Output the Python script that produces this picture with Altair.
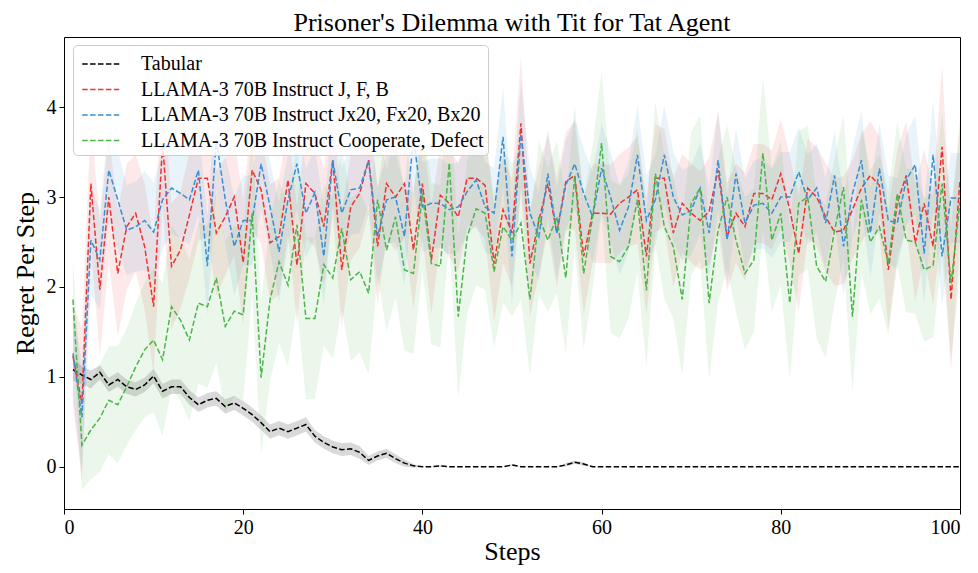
import altair as alt
import pandas as pd

steps = list(range(1, 101))
series_names = [
    "Tabular",
    "LLAMA-3 70B Instruct J, F, B",
    "LLAMA-3 70B Instruct Jx20, Fx20, Bx20",
    "LLAMA-3 70B Instruct Cooperate, Defect",
]
series_colors = ["#000000", "#ee3333", "#3a8ed3", "#4bb54b"]

tabular = [1.08, 1.02, 0.97, 1.05, 0.91, 0.97, 0.89, 0.86, 0.91, 1.01,
           0.84, 0.89, 0.89, 0.77, 0.69, 0.74, 0.76, 0.67, 0.71, 0.65,
           0.58, 0.49, 0.39, 0.43, 0.39, 0.43, 0.47, 0.34, 0.27, 0.22,
           0.19, 0.20, 0.16, 0.07, 0.12, 0.15, 0.09, 0.04, 0.01, 0.0,
           0.0, 0.01, 0.0, 0.0, 0.0, 0.0, 0.0, 0.0, 0.0, 0.02,
           0.0, 0.0, 0.0, 0.0, 0.0, 0.02, 0.05, 0.03, 0.0, 0.0,
           0.0, 0.0, 0.0, 0.0, 0.0, 0.0, 0.0, 0.0, 0.0, 0.0,
           0.0, 0.0, 0.0, 0.0, 0.0, 0.0, 0.0, 0.0, 0.0, 0.0,
           0.0, 0.0, 0.0, 0.0, 0.0, 0.0, 0.0, 0.0, 0.0, 0.0,
           0.0, 0.0, 0.0, 0.0, 0.0, 0.0, 0.0, 0.0, 0.0, 0.0]
tabular_hw = [0.12, 0.10, 0.10, 0.08, 0.08, 0.08, 0.08, 0.08, 0.08, 0.08,
              0.08, 0.08, 0.08, 0.08, 0.08, 0.08, 0.08, 0.08, 0.08, 0.08,
              0.08, 0.08, 0.08, 0.08, 0.08, 0.08, 0.08, 0.07, 0.07, 0.07,
              0.07, 0.07, 0.07, 0.05, 0.05, 0.05, 0.05, 0.04, 0.02, 0.0,
              0.0, 0.01, 0.0, 0.0, 0.0, 0.0, 0.0, 0.0, 0.0, 0.01,
              0.0, 0.0, 0.0, 0.0, 0.0, 0.02, 0.02, 0.02, 0.0, 0.0,
              0.0, 0.0, 0.0, 0.0, 0.0, 0.0, 0.0, 0.0, 0.0, 0.0,
              0.0, 0.0, 0.0, 0.0, 0.0, 0.0, 0.0, 0.0, 0.0, 0.0,
              0.0, 0.0, 0.0, 0.0, 0.0, 0.0, 0.0, 0.0, 0.0, 0.0,
              0.0, 0.0, 0.0, 0.0, 0.0, 0.0, 0.0, 0.0, 0.0, 0.0]

jfb = [1.23, 0.70, 3.15, 1.97, 3.00, 2.15, 2.67, 2.82, 2.45, 1.78,
       3.60, 2.23, 2.41, 2.80, 3.21, 3.21, 2.60, 2.78, 3.00, 2.27,
       3.30, 3.08, 2.49, 2.56, 3.19, 2.24, 3.15, 3.04, 2.67, 3.41,
       2.19, 2.89, 3.04, 3.41, 2.45, 3.15, 3.00, 3.15, 2.41, 3.15,
       2.30, 3.02, 2.93, 2.78, 3.21, 3.21, 3.13, 2.26, 2.86, 2.60,
       3.82, 2.26, 2.74, 3.15, 2.60, 3.17, 3.24, 2.34, 2.82, 2.82,
       2.81, 2.93, 3.00, 3.08, 2.34, 3.21, 3.21, 2.60, 2.93, 2.82,
       2.74, 2.84, 3.30, 2.56, 2.82, 2.67, 3.04, 3.04, 2.97, 3.26,
       2.86, 2.37, 3.10, 3.00, 2.78, 2.61, 2.63, 2.86, 3.10, 3.24,
       3.13, 2.19, 2.93, 3.24, 2.49, 2.93, 2.45, 3.56, 1.86, 3.19]
jfb_hw = [0.55, 0.85, 0.70, 0.75, 0.70, 0.70, 0.70, 0.65, 0.70, 0.75,
          0.70, 0.70, 0.65, 0.70, 0.70, 0.65, 0.70, 0.65, 0.65, 0.70,
          0.65, 0.60, 0.65, 0.65, 0.60, 0.65, 0.60, 0.60, 0.65, 0.60,
          0.65, 0.60, 0.60, 0.60, 0.65, 0.60, 0.60, 0.60, 0.65, 0.60,
          0.60, 0.55, 0.60, 0.60, 0.55, 0.55, 0.60, 0.65, 0.60, 0.60,
          0.75, 0.60, 0.60, 0.55, 0.60, 0.55, 0.60, 0.65, 0.55, 0.55,
          0.55, 0.55, 0.55, 0.60, 0.65, 0.60, 0.55, 0.60, 0.55, 0.55,
          0.55, 0.60, 0.65, 0.60, 0.55, 0.60, 0.55, 0.55, 0.55, 0.60,
          0.60, 0.65, 0.55, 0.55, 0.60, 0.60, 0.60, 0.55, 0.60, 0.60,
          0.55, 0.65, 0.60, 0.60, 0.65, 0.60, 0.65, 0.90, 0.80, 0.70]

jfb20 = [1.26, 0.55, 2.52, 2.30, 3.30, 2.97, 2.63, 2.67, 2.74, 2.61,
         2.97, 3.10, 3.04, 2.97, 3.30, 2.23, 3.63, 2.97, 2.45, 2.74,
         2.74, 3.37, 2.89, 2.39, 2.97, 3.37, 2.82, 3.05, 2.34, 3.41,
         2.82, 3.08, 3.10, 3.41, 2.56, 2.97, 3.00, 2.56, 3.67, 2.89,
         2.93, 2.93, 2.86, 2.89, 3.06, 3.19, 2.89, 2.82, 3.67, 2.34,
         3.70, 2.82, 2.56, 3.26, 2.60, 3.13, 3.37, 3.04, 2.78, 3.32,
         3.00, 2.63, 2.89, 3.47, 2.74, 2.97, 3.47, 3.00, 2.80, 2.85,
         3.10, 2.60, 3.41, 2.52, 3.26, 2.71, 2.91, 2.93, 2.82, 3.00,
         3.00, 3.28, 2.97, 3.10, 2.71, 3.24, 2.45, 3.04, 3.41, 2.60,
         3.32, 2.74, 2.71, 3.19, 3.36, 2.37, 3.47, 2.34, 2.99, 2.99]
jfb20_hw = [0.50, 0.60, 0.60, 0.55, 0.55, 0.55, 0.50, 0.50, 0.55, 0.55,
            0.55, 0.50, 0.50, 0.50, 0.50, 0.55, 0.55, 0.50, 0.55, 0.50,
            0.50, 0.50, 0.50, 0.55, 0.50, 0.50, 0.50, 0.50, 0.55, 0.50,
            0.50, 0.50, 0.50, 0.50, 0.55, 0.50, 0.50, 0.55, 0.55, 0.50,
            0.50, 0.50, 0.50, 0.50, 0.50, 0.50, 0.50, 0.50, 0.55, 0.55,
            0.60, 0.50, 0.50, 0.50, 0.50, 0.50, 0.50, 0.50, 0.50, 0.50,
            0.50, 0.50, 0.50, 0.55, 0.50, 0.50, 0.55, 0.50, 0.50, 0.50,
            0.50, 0.50, 0.55, 0.50, 0.50, 0.50, 0.50, 0.50, 0.50, 0.50,
            0.50, 0.50, 0.50, 0.50, 0.50, 0.50, 0.55, 0.50, 0.55, 0.50,
            0.50, 0.50, 0.50, 0.50, 0.55, 0.55, 0.60, 0.55, 0.50, 0.50]

coop = [1.86, 0.24, 0.41, 0.54, 0.74, 0.69, 0.89, 1.11, 1.30, 1.41,
        1.19, 1.78, 1.63, 1.41, 1.82, 1.78, 2.10, 1.56, 1.73, 1.69,
        2.82, 0.99, 1.86, 2.28, 2.02, 2.69, 1.65, 1.65, 2.25, 2.10,
        2.65, 2.08, 2.17, 1.93, 2.97, 2.41, 2.78, 2.19, 2.15, 3.04,
        2.26, 2.23, 3.38, 1.67, 2.56, 2.87, 2.82, 2.17, 2.67, 2.52,
        2.71, 1.86, 2.78, 2.52, 2.78, 2.10, 3.23, 2.15, 2.78, 3.60,
        2.34, 2.28, 2.45, 2.97, 1.96, 3.26, 2.67, 2.45, 1.86, 2.93,
        3.10, 1.82, 2.63, 3.00, 2.52, 2.15, 2.30, 3.49, 2.52, 2.82,
        1.82, 2.93, 3.00, 2.23, 2.06, 2.63, 3.11, 1.67, 2.97, 2.50,
        2.67, 2.26, 3.04, 2.52, 2.50, 2.19, 2.24, 3.15, 2.04, 2.95]
coop_hw = [0.45, 0.50, 0.55, 0.60, 0.60, 0.65, 0.65, 0.70, 0.75, 0.80,
           0.85, 0.90, 0.90, 0.90, 0.90, 0.90, 0.95, 0.95, 0.95, 0.95,
           0.90, 0.85, 0.90, 0.90, 0.90, 0.90, 0.90, 0.90, 0.90, 0.90,
           0.90, 0.90, 0.90, 0.90, 0.85, 0.90, 0.90, 0.90, 0.90, 0.85,
           0.90, 0.90, 0.85, 0.90, 0.85, 0.85, 0.85, 0.85, 0.85, 0.85,
           0.85, 0.85, 0.85, 0.80, 0.85, 0.85, 0.80, 0.85, 0.80, 0.80,
           0.85, 0.85, 0.80, 0.80, 0.85, 0.80, 0.80, 0.80, 0.85, 0.80,
           0.80, 0.85, 0.80, 0.80, 0.80, 0.85, 0.80, 0.85, 0.80, 0.80,
           0.85, 0.80, 0.80, 0.80, 0.85, 0.80, 0.80, 0.85, 0.80, 0.80,
           0.80, 0.80, 0.80, 0.80, 0.80, 0.80, 0.80, 0.80, 0.85, 0.80]

x_ticks = [0, 20, 40, 60, 80, 100]
y_ticks = [0, 1, 2, 3, 4]

rows = []
for name, vals, hws in zip(series_names,
                           [tabular, jfb, jfb20, coop],
                           [tabular_hw, jfb_hw, jfb20_hw, coop_hw]):
    for s, v, h in zip(steps, vals, hws):
        rows.append({"step": s, "series": name, "value": v,
                     "lo": v - h, "hi": v + h})
df = pd.DataFrame(rows)

FONT = "Liberation Serif"
DASH = [5.5, 2.4]

xenc = alt.X("step:Q", title="Steps",
             scale=alt.Scale(domain=[0, 100], nice=False),
             axis=alt.Axis(values=x_ticks, format="d"))

bands = alt.Chart(df).mark_area(clip=True).encode(
    x=xenc,
    y=alt.Y("lo:Q"),
    y2="hi:Q",
    fill=alt.Fill("series:N",
                  scale=alt.Scale(domain=series_names, range=series_colors),
                  legend=None),
    opacity=alt.condition(alt.datum.series == "Tabular",
                          alt.value(0.15), alt.value(0.11)),
    detail="series:N",
)

lines = alt.Chart(df).mark_line(
    strokeDash=DASH, strokeWidth=1.5, clip=True
).encode(
    x=xenc,
    y=alt.Y("value:Q", title="Regret Per Step",
            scale=alt.Scale(domain=[-0.47, 4.78], nice=False, zero=False),
            axis=alt.Axis(values=y_ticks, format="d")),
    stroke=alt.Stroke(
        "series:N",
        scale=alt.Scale(domain=series_names, range=series_colors),
        sort=series_names,
        legend=alt.Legend(
            title=None, orient="none", legendX=9, legendY=8,
            symbolType="M-0.7,0H2.07", symbolDash=DASH,
            symbolStrokeWidth=1.5, symbolSize=784,
            labelFont=FONT, labelFontSize=20, labelLimit=0,
            labelColor="black", fillColor="rgba(255,255,255,0.85)",
            strokeColor="#cccccc", cornerRadius=4, padding=4,
            rowPadding=0.5, labelOffset=34,
        ),
    ),
    order="step:Q",
)

chart = alt.layer(bands, lines).resolve_scale(
    fill="independent", stroke="independent"
).resolve_legend(
    fill="independent", stroke="independent"
).properties(
    width=896, height=472,
    title=alt.TitleParams("Prisoner's Dilemma with Tit for Tat Agent",
                          font=FONT, fontSize=26, fontWeight="normal",
                          color="black", anchor="middle", offset=1),
    autosize=alt.AutoSizeParams(type="none"),
    padding={"left": 56, "top": 29, "right": 10, "bottom": 63},
).configure_view(
    stroke="black", strokeWidth=1,
).configure_axis(
    grid=False, domain=False,
    labelFont=FONT, labelFontSize=20, labelColor="black",
    titleFont=FONT, titleFontSize=26, titleFontWeight="normal",
    titleColor="black", tickColor="black", tickSize=5, labelPadding=3,
).configure_axisY(
    titlePadding=8,
).configure_axisX(
    titlePadding=1,
)

chart.save("out.html", embed_options={"renderer": "svg", "actions": False})
